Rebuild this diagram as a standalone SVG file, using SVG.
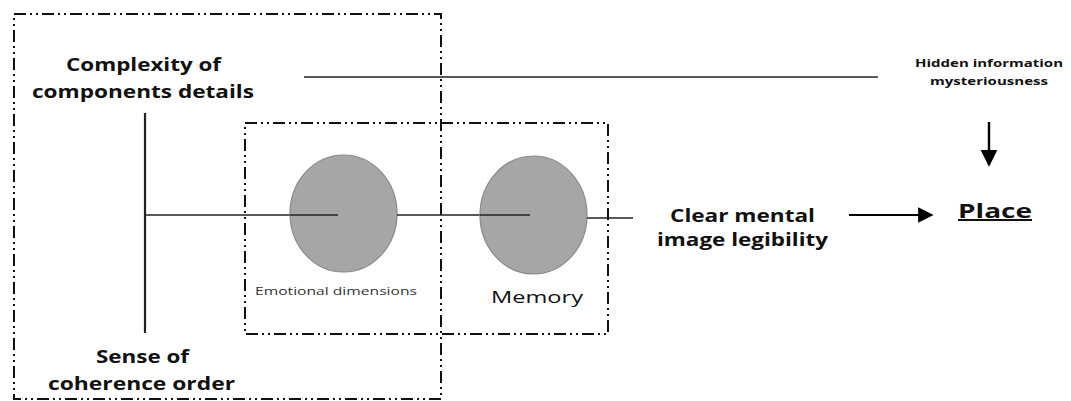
<svg xmlns="http://www.w3.org/2000/svg" width="1071" height="401" viewBox="0 0 1071 401">
<defs>
<marker id="ah" viewBox="0 0 10 10" refX="9" refY="5" markerWidth="7" markerHeight="7.5" orient="auto" markerUnits="strokeWidth">
<path d="M0,0 L10,5 L0,10 z" fill="#000"/>
</marker>
<style>
.box{fill:none;stroke:#111;stroke-width:2;stroke-dasharray:12 4 2 4 2 4}
.ln{stroke:#222;stroke-width:1.6;fill:none}
.ell{fill:#a6a6a6;stroke:#8a8a8a;stroke-width:1.2}
.lbl{font-family:"Open Sans","Liberation Sans",sans-serif;font-weight:bold;fill:#111}
.sm{font-family:"Open Sans","Liberation Sans",sans-serif;fill:#333}
</style>
</defs>
<rect width="1071" height="401" fill="#fff"/>
<g id="outer-box"><rect class="box" x="14" y="14" width="427" height="385"/></g>
<g id="inner-box"><rect class="box" x="245" y="123" width="363" height="211"/></g>
<g id="connectors">
<line class="ln" x1="304" y1="77" x2="878" y2="77"/>
<line class="ln" x1="145" y1="113" x2="145" y2="333" style="stroke-width:2.2"/>
<line class="ln" x1="145" y1="215" x2="290" y2="215"/>
</g>
<g id="emotional">
<ellipse class="ell" cx="343.5" cy="213.5" rx="53.5" ry="58.5"/>
<line class="ln" x1="290" y1="215" x2="338" y2="215"/>
<text class="sm" x="255" y="295" font-size="11.5" textLength="162" lengthAdjust="spacingAndGlyphs">Emotional dimensions</text>
</g>
<g id="connectors2">
<line class="ln" x1="397" y1="215" x2="480" y2="215"/>
</g>
<g id="memory">
<ellipse class="ell" cx="533.5" cy="215" rx="53.5" ry="59"/>
<line class="ln" x1="480" y1="215" x2="530" y2="215"/>
<text class="sm" x="491" y="303" font-size="17" textLength="92" lengthAdjust="spacingAndGlyphs" style="fill:#111">Memory</text>
</g>
<g id="connectors3">
<line class="ln" x1="587" y1="218" x2="633" y2="218"/>
<line x1="849" y1="215" x2="932" y2="215" stroke="#000" stroke-width="2.2" marker-end="url(#ah)"/>
<line x1="989" y1="122" x2="989" y2="165" stroke="#000" stroke-width="2.4" marker-end="url(#ah)"/>
</g>
<g id="complexity">
<text class="lbl" x="66" y="71" font-size="18" textLength="155" lengthAdjust="spacingAndGlyphs">Complexity of</text>
<text class="lbl" x="32" y="98" font-size="18" textLength="222" lengthAdjust="spacingAndGlyphs">components details</text>
</g>
<g id="sense">
<text class="lbl" x="96" y="363" font-size="18" textLength="93" lengthAdjust="spacingAndGlyphs">Sense of</text>
<text class="lbl" x="48" y="390" font-size="18" textLength="187" lengthAdjust="spacingAndGlyphs">coherence order</text>
</g>
<g id="clear">
<text class="lbl" x="670" y="222" font-size="18" textLength="145" lengthAdjust="spacingAndGlyphs">Clear mental</text>
<text class="lbl" x="657" y="246" font-size="18" textLength="171" lengthAdjust="spacingAndGlyphs">image legibility</text>
</g>
<g id="hidden">
<text class="lbl" x="915" y="67" font-size="11" textLength="148" lengthAdjust="spacingAndGlyphs">Hidden information</text>
<text class="lbl" x="930" y="85" font-size="11" textLength="118" lengthAdjust="spacingAndGlyphs">mysteriousness</text>
</g>
<g id="place">
<text class="lbl" x="958" y="218" font-size="20" textLength="74" lengthAdjust="spacingAndGlyphs" text-decoration="underline">Place</text>
</g>
</svg>
